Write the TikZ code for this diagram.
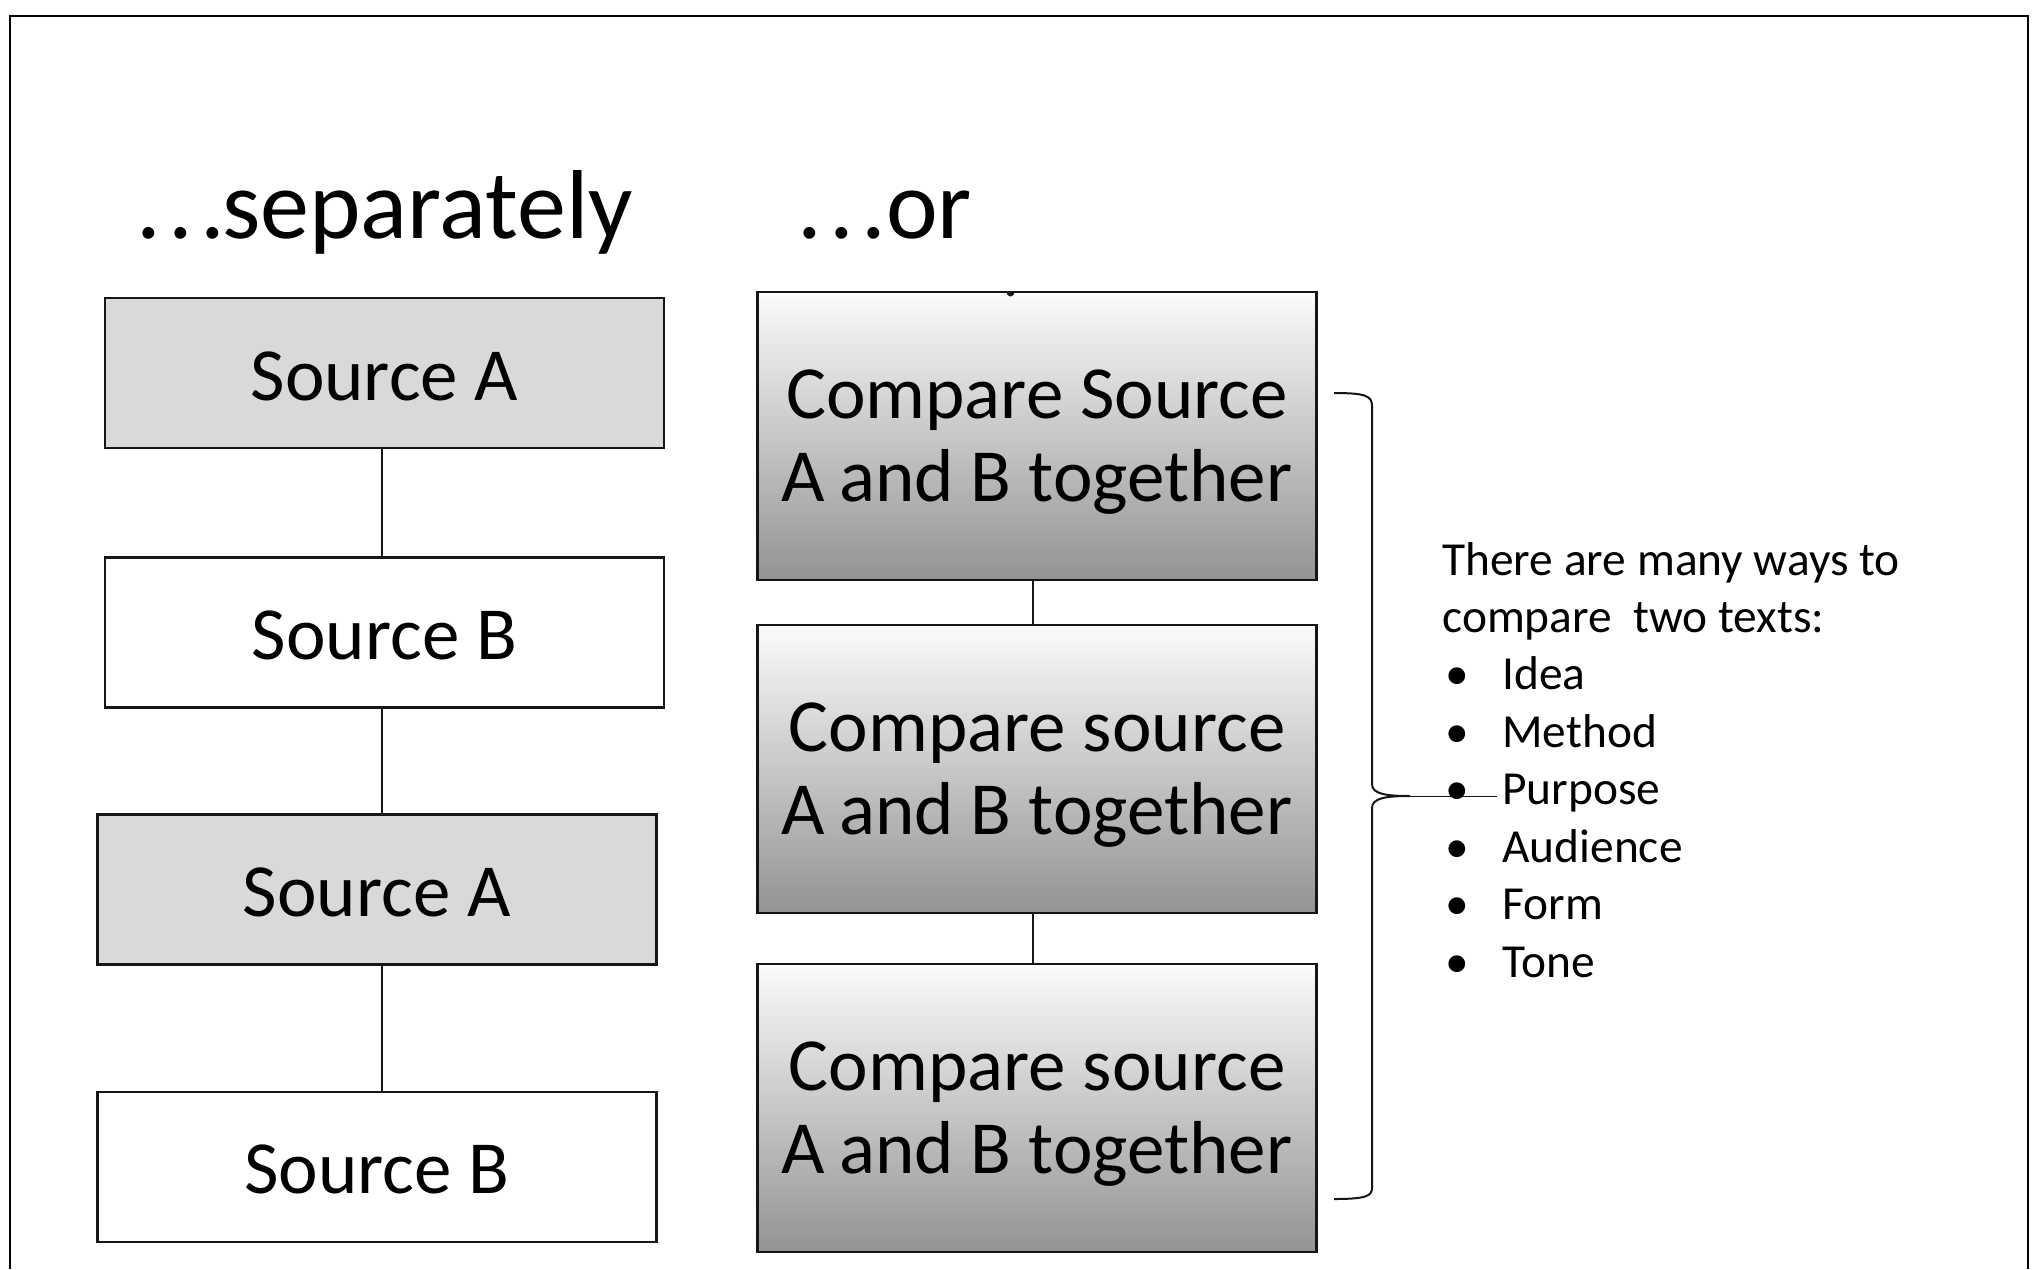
\documentclass[tikz,border=0pt]{standalone}
\usepackage{fontspec}
\setmainfont{Carlito}
\definecolor{boxgray}{HTML}{D9D9D9}
\definecolor{shadetop}{HTML}{FBFBFB}
\definecolor{shadebot}{HTML}{939393}
\definecolor{edge}{HTML}{161616}
\tikzset{
  srcbox/.style={draw=edge, line width=1.2pt, minimum width=279.5pt,
    minimum height=75pt, inner sep=0pt, text height=27pt, text depth=0pt,
    font=\fontsize{37.5}{41}\selectfont},
  grayfill/.style={fill=boxgray},
  cmpbox/.style={draw=edge, line width=1.2pt, minimum width=279.5pt,
    minimum height=144pt, inner sep=0pt, align=center, text depth=-2pt,
    top color=shadetop, bottom color=shadebot,
    font=\fontsize{37.5}{41.5}\selectfont},
  link/.style={draw=edge, line width=0.7pt},
  heading/.style={anchor=base west, inner sep=0pt, font=\fontsize{49}{54}\selectfont},
  note/.style={anchor=base west, inner sep=0pt, font=\fontsize{23.7}{28.8}\selectfont},
}
% three widely spaced leading dots
\newcommand{\leaddots}{.\kern3.65pt.\kern3.65pt.}
\newcommand{\bulletitem}[1]{\hspace*{7.5pt}\makebox[0pt]{\textbullet}\hspace*{22.5pt}#1}
\newcommand{\together}{A\kern-1.5pt{} and B together}
\begin{document}
\begin{tikzpicture}[x=0.5pt, y=-0.5pt]
  \useasboundingbox (0,0) rectangle (2034,1269);
  \fill[white] (0,0) rectangle (2034,1269);

  % outer frame, open at the bottom
  \draw[line width=1.3pt] (10,1269) -- (10,16) -- (2028,16) -- (2028,1269);

  % headings
  \node[heading] (hsep) at (136,238) {\leaddots\kern-1.5pt separately};
  \node[heading] (hor)  at (797,238) {\leaddots or};

  % left column: the sources read one after the other
  \node[srcbox, grayfill] (a1) at (384.5,373)    {Source A};
  \node[srcbox]           (b1) at (384.5,632.5)  {Source B};
  \node[srcbox, grayfill] (a2) at (376.8,889.3)  {Source A};
  \node[srcbox]           (b2) at (376.8,1166.7) {Source B};

  \coordinate (lx) at (382,0);
  \draw[link] (a1.south -| lx) -- (b1.north -| lx);
  \draw[link] (b1.south -| lx) -- (a2.north -| lx);
  \draw[link] (a2.south -| lx) -- (b2.north -| lx);

  % right column: the sources compared together
  \node[cmpbox] (c1) at (1037,436)  {Compare Source\\\together};
  \node[cmpbox] (c2) at (1037,769)  {Compare source\\\together};
  \node[cmpbox] (c3) at (1037,1108) {Compare source\\\together};

  \coordinate (rx) at (1033,0);
  \draw[link] (c1.south -| rx) -- (c2.north -| rx);
  \draw[link] (c2.south -| rx) -- (c3.north -| rx);

  % small bump on the top edge of the first comparison box
  \fill[edge] (1006.5,292) arc[start angle=180, end angle=0, x radius=4, y radius=4.5] -- cycle;

  % brace gathering the comparison boxes
  \coordinate (btop) at (1334,393);
  \coordinate (bbot) at (1334,1199);
  \coordinate (btip) at (1410,796);
  \coordinate (bend) at (1497,796);
  \draw[line width=1pt, edge]
    (btop) .. controls (1366,393) and (1372,396) .. (1372,406)
    -- (1372,784) .. controls (1372,794) and (1386,796) .. (btip)
    .. controls (1386,796) and (1372,798) .. (1372,808)
    -- (1372,1188) .. controls (1372,1196) and (1366,1199) .. (bbot);
  \draw[line width=0.5pt, edge] (btip) -- (bend);

  % list of ways to compare
  \node[note] (n1) at (1442,575) {There are many ways to};
  \node[note] (n2) at (1442,632) {compare\ \ two texts:};
  \node[note] (i1) at (1442,689) {\bulletitem{Idea}};
  \node[note] (i2) at (1442,747) {\bulletitem{Method}};
  \node[note] (i3) at (1442,804) {\bulletitem{Purpose}};
  \node[note] (i4) at (1442,862) {\bulletitem{Audience}};
  \node[note] (i5) at (1442,919) {\bulletitem{Form}};
  \node[note] (i6) at (1442,977) {\bulletitem{Tone}};
\end{tikzpicture}
\end{document}
